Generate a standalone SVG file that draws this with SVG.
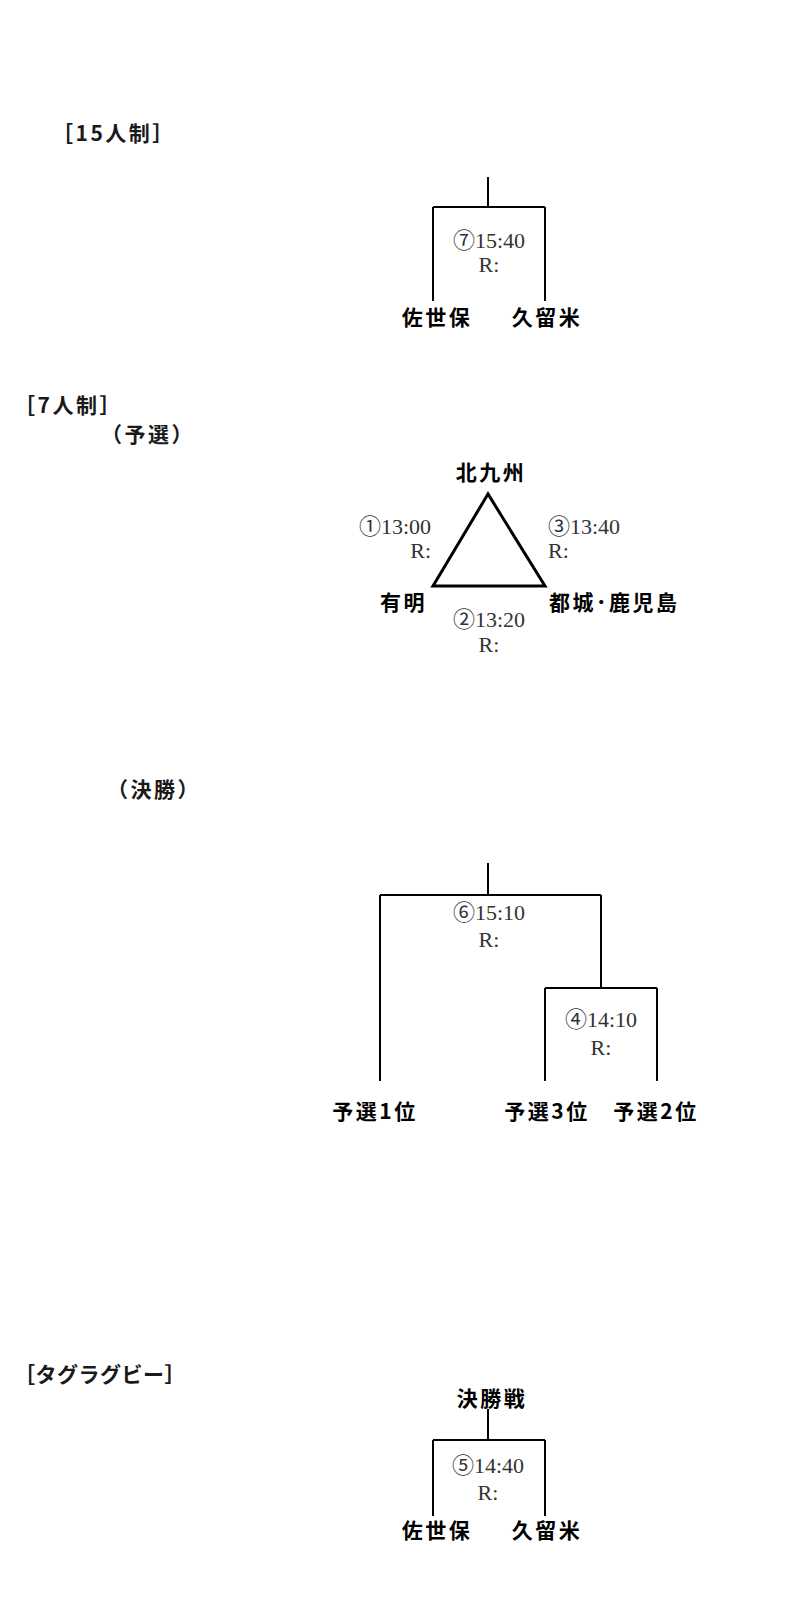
<svg xmlns="http://www.w3.org/2000/svg" width="800" height="1620" viewBox="0 0 800 1620">
<style>
.hdr{font-family:"Noto Sans CJK JP","Noto Sans CJK SC",sans-serif;font-size:21px;fill:#1a1a1a;font-weight:bold;letter-spacing:2.5px}
.team{font-family:"Noto Sans CJK JP","Noto Sans CJK SC",sans-serif;font-size:21px;fill:#000;font-weight:bold;letter-spacing:2.5px}
.time{font-family:"Liberation Serif","Noto Sans CJK JP",serif;font-size:22px;fill:#333}
.ln{stroke:#000;stroke-width:2;fill:none}
.tri{stroke:#000;stroke-width:3;fill:none;stroke-linejoin:miter}
.c{text-anchor:middle}
.e{text-anchor:end}
</style>
<rect width="800" height="1620" fill="#fff"/>
<g id="headers">
<text class="hdr" x="52" y="141">［15人制］</text>
<text class="hdr" x="14" y="413">［7人制］</text>
<text class="hdr" x="101" y="442">（予選）</text>
<text class="hdr" x="107" y="797">（決勝）</text>
<text class="hdr" x="14" y="1382" style="letter-spacing:0.5px">［タグラグビー］</text>
</g>
<g id="connectors">
<path class="ln" d="M488 177V207M433 207H545M433 207V301M545 207V301"/>
<polygon class="tri" points="488,494 433,586 545,586"/>
<path class="ln" d="M488 863V895M380 895H601M380 895V1081M601 895V988M545 988H657M545 988V1081M657 988V1081"/>
<path class="ln" d="M488 1409V1440M433 1440H545M433 1440V1516M545 1440V1516"/>
</g>
<g id="m7">
<text class="time c" x="489" y="248">⑦15:40</text>
<text class="time c" x="489" y="272">R:</text>
</g>
<g id="t15-sasebo"><text class="team c" x="437" y="325">佐世保</text></g>
<g id="t15-kurume"><text class="team c" x="547" y="325">久留米</text></g>
<g id="kitakyushu"><text class="team c" x="491" y="480">北九州</text></g>
<g id="ariake"><text class="team" x="380" y="610">有明</text></g>
<g id="miyakonojo"><text class="team" x="549" y="610">都城･鹿児島</text></g>
<g id="m1">
<text class="time e" x="431" y="534">①13:00</text>
<text class="time e" x="431" y="558">R:</text>
</g>
<g id="m3">
<text class="time" x="548" y="534">③13:40</text>
<text class="time" x="548" y="558">R:</text>
</g>
<g id="m2">
<text class="time c" x="489" y="627">②13:20</text>
<text class="time c" x="489" y="652">R:</text>
</g>
<g id="m6">
<text class="time c" x="489" y="920">⑥15:10</text>
<text class="time c" x="489" y="947">R:</text>
</g>
<g id="m4">
<text class="time c" x="601" y="1027">④14:10</text>
<text class="time c" x="601" y="1055">R:</text>
</g>
<g id="q1"><text class="team c" x="375" y="1119">予選1位</text></g>
<g id="q3"><text class="team c" x="547" y="1119">予選3位</text></g>
<g id="q2"><text class="team c" x="656" y="1119">予選2位</text></g>
<g id="final"><text class="team c" x="492" y="1406">決勝戦</text></g>
<g id="m5">
<text class="time c" x="488" y="1473">⑤14:40</text>
<text class="time c" x="488" y="1500">R:</text>
</g>
<g id="tag-sasebo"><text class="team c" x="437" y="1538">佐世保</text></g>
<g id="tag-kurume"><text class="team c" x="547" y="1538">久留米</text></g>
</svg>
